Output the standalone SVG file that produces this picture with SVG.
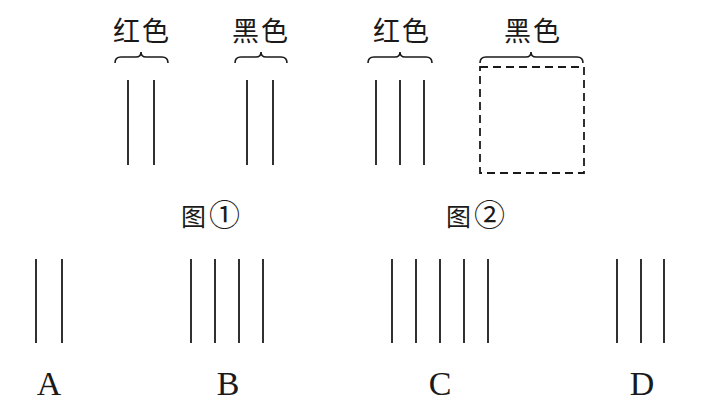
<svg xmlns="http://www.w3.org/2000/svg" width="702" height="403" viewBox="0 0 702 403">
<style>
.ln{stroke:#1a1a1a;stroke-width:1.8;fill:none}
.br{stroke:#1a1a1a;stroke-width:1.6;fill:none}
.cjk{font-family:"Noto Sans CJK SC","Noto Sans CJK JP",sans-serif;font-size:27px;fill:#1a1a1a;text-anchor:middle}
.cap{font-family:"Noto Sans CJK SC","Noto Sans CJK JP",sans-serif;font-size:25px;fill:#1a1a1a}
.num{font-size:31px}
.lab{font-family:"Liberation Serif",serif;font-size:34px;fill:#1a1a1a;text-anchor:middle}
</style>
<rect width="702" height="403" fill="#fff"/>
<g id="fig1-red">
<text class="cjk" x="142" y="41" letter-spacing="2">红色</text>
<path class="br" d="M115,63 Q115,57 121,57 L136,57 Q141,57 141,52 Q141,57 146,57 L162,57 Q168,57 168,63"/>
<line class="ln" x1="128" y1="80" x2="128" y2="165"/>
<line class="ln" x1="154" y1="80" x2="154" y2="165"/>
</g>
<g id="fig1-black">
<text class="cjk" x="261" y="41" letter-spacing="2">黑色</text>
<path class="br" d="M235,63 Q235,57 241,57 L256,57 Q261,57 261,52 Q261,57 266,57 L281,57 Q287,57 287,63"/>
<line class="ln" x1="247" y1="80" x2="247" y2="165"/>
<line class="ln" x1="273" y1="80" x2="273" y2="165"/>
</g>
<g id="fig2-red">
<text class="cjk" x="402" y="41" letter-spacing="2">红色</text>
<path class="br" d="M368,63 Q368,57 374,57 L395,57 Q400,57 400,52 Q400,57 405,57 L426,57 Q432,57 432,63"/>
<line class="ln" x1="376" y1="80" x2="376" y2="165"/>
<line class="ln" x1="400" y1="80" x2="400" y2="165"/>
<line class="ln" x1="424" y1="80" x2="424" y2="165"/>
</g>
<g id="fig2-black">
<text class="cjk" x="533" y="41" letter-spacing="2">黑色</text>
<path class="br" d="M480,63 Q480,57 486,57 L526,57 Q531,57 531,52 Q531,57 536,57 L577,57 Q583,57 583,63"/>
<rect x="480" y="67" width="104" height="106" fill="none" stroke="#1a1a1a" stroke-width="1.8" stroke-dasharray="8,5"/>
</g>
<g id="caption1"><text class="cap" x="181" y="226">图<tspan class="num" dx="3">①</tspan></text></g>
<g id="caption2"><text class="cap" x="446" y="226">图<tspan class="num" dx="3">②</tspan></text></g>
<g id="optA">
<line class="ln" x1="36" y1="259" x2="36" y2="343"/>
<line class="ln" x1="62" y1="259" x2="62" y2="343"/>
<text class="lab" x="49" y="395">A</text>
</g>
<g id="optB">
<line class="ln" x1="191" y1="259" x2="191" y2="343"/>
<line class="ln" x1="215" y1="259" x2="215" y2="343"/>
<line class="ln" x1="239" y1="259" x2="239" y2="343"/>
<line class="ln" x1="263" y1="259" x2="263" y2="343"/>
<text class="lab" x="228" y="395">B</text>
</g>
<g id="optC">
<line class="ln" x1="392" y1="259" x2="392" y2="343"/>
<line class="ln" x1="416" y1="259" x2="416" y2="343"/>
<line class="ln" x1="440" y1="259" x2="440" y2="343"/>
<line class="ln" x1="464" y1="259" x2="464" y2="343"/>
<line class="ln" x1="488" y1="259" x2="488" y2="343"/>
<text class="lab" x="440" y="395">C</text>
</g>
<g id="optD">
<line class="ln" x1="617" y1="259" x2="617" y2="343"/>
<line class="ln" x1="641" y1="259" x2="641" y2="343"/>
<line class="ln" x1="664" y1="259" x2="664" y2="343"/>
<text class="lab" x="642" y="395">D</text>
</g>
<g id="connectors"/>
</svg>
